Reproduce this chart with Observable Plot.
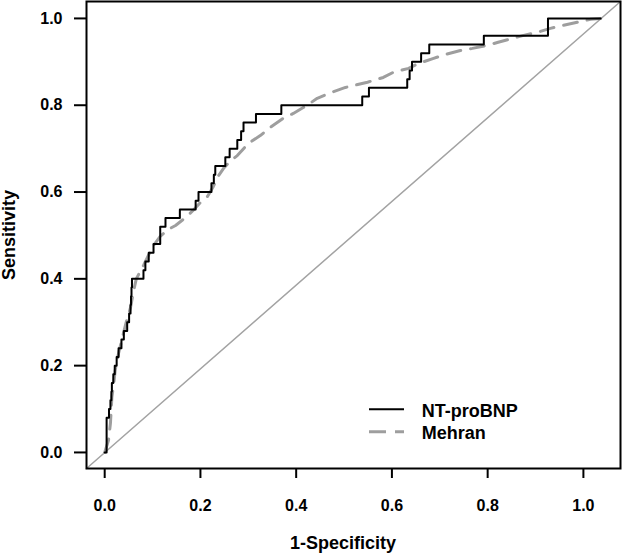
<!DOCTYPE html>
<html><head><meta charset="utf-8">
<script src="https://cdn.jsdelivr.net/npm/d3@7"></script>
<script src="https://cdn.jsdelivr.net/npm/@observablehq/plot@0.6"></script>
<style>
body{margin:0;background:#fff;}
#wrap{position:relative;width:622px;height:558px;font-family:"Liberation Sans",Arial,sans-serif;}
#legend{position:absolute;left:0;top:0;pointer-events:none;}
</style></head>
<body><div id="wrap"></div>
<script>
// ---- data ----
const seriesNames = ["NT-proBNP", "Mehran"];
const xTitle = "1-Specificity";
const yTitle = "Sensitivity";
const xTicks = [0, 0.2, 0.4, 0.6, 0.8, 1.0];
const yTicks = [0, 0.2, 0.4, 0.6, 0.8, 1.0];
const xDomain = [-0.038, 1.0775];
const yDomain = [-0.037, 1.039];

// NT-proBNP ROC (step points)
const ntX = [0, 0.004, 0.009, 0.012, 0.014, 0.015, 0.018, 0.021, 0.025, 0.029,
  0.035, 0.040, 0.047, 0.051, 0.054, 0.055, 0.056, 0.057, 0.081, 0.085,
  0.092, 0.102, 0.116, 0.127, 0.157, 0.190, 0.196, 0.223, 0.228, 0.231,
  0.252, 0.261, 0.277, 0.285, 0.290, 0.316, 0.369, 0.538, 0.552, 0.632,
  0.637, 0.642, 0.661, 0.678, 0.792, 0.926, 1.036];
const ntY = [0, 0.08, 0.10, 0.12, 0.14, 0.16, 0.18, 0.20, 0.22, 0.24,
  0.26, 0.28, 0.30, 0.32, 0.34, 0.36, 0.38, 0.40, 0.42, 0.44,
  0.46, 0.48, 0.52, 0.54, 0.56, 0.58, 0.60, 0.62, 0.64, 0.66,
  0.68, 0.70, 0.72, 0.74, 0.76, 0.78, 0.80, 0.82, 0.84, 0.86,
  0.88, 0.90, 0.92, 0.94, 0.96, 1.00, 1.00];

// Mehran ROC
const mehX = [0, 0.008, 0.012, 0.015, 0.019, 0.022, 0.027, 0.033, 0.039, 0.045,
  0.054, 0.060, 0.066, 0.081, 0.089, 0.102, 0.116, 0.133, 0.148, 0.169,
  0.185, 0.200, 0.215, 0.227, 0.238, 0.248, 0.262, 0.277, 0.300, 0.325,
  0.346, 0.373, 0.394, 0.423, 0.444, 0.472, 0.503, 0.549, 0.582, 0.603,
  0.635, 0.655, 0.687, 0.712, 0.743, 0.768, 0.799, 0.822, 0.852, 0.875,
  0.904, 0.931, 0.958, 0.987, 1.015, 1.036];
const mehY = [0, 0.028, 0.067, 0.127, 0.159, 0.19, 0.219, 0.247, 0.274, 0.30,
  0.334, 0.37, 0.40, 0.431, 0.449, 0.477, 0.498, 0.514, 0.523, 0.541,
  0.558, 0.576, 0.59, 0.613, 0.638, 0.654, 0.671, 0.684, 0.712, 0.73,
  0.749, 0.77, 0.781, 0.80, 0.816, 0.829, 0.841, 0.853, 0.864, 0.876,
  0.885, 0.896, 0.908, 0.917, 0.926, 0.931, 0.938, 0.945, 0.954, 0.961,
  0.968, 0.977, 0.984, 0.991, 0.998, 1.0];

// ---- build ----
const ntData = ntX.map((x, i) => ({x, y: ntY[i]}));
const mehData = mehX.map((x, i) => ({x, y: mehY[i]}));
const diag = [{x: xDomain[0], y: yDomain[0]}, {x: xDomain[1], y: yDomain[1]}];
const fmt = d3.format(".1f");
const FONT = "'Liberation Sans', Arial, sans-serif";

const chart = Plot.plot({
  width: 622, height: 558,
  marginLeft: 86, marginRight: 2, marginTop: 1, marginBottom: 90,
  style: {fontFamily: FONT, fontWeight: "bold", fontSize: "16px", background: "white", color: "black", overflow: "visible"},
  x: {domain: xDomain},
  y: {domain: yDomain},
  marks: [
    Plot.line(diag, {x: "x", y: "y", stroke: "#a3a3a3", strokeWidth: 1.5}),
    Plot.line(mehData, {x: "x", y: "y", stroke: "#9e9e9e", strokeWidth: 3, strokeDasharray: "14,10"}),
    Plot.line(ntData, {x: "x", y: "y", curve: "step-after", stroke: "black", strokeWidth: 2}),
    Plot.frame({stroke: "black", strokeWidth: 2}),
    Plot.axisX({ticks: xTicks, tickSize: 10, tickPadding: 21, strokeWidth: 2, tickFormat: fmt, label: null, fontSize: 16}),
    Plot.axisY({ticks: yTicks, tickSize: 12, tickPadding: 12, strokeWidth: 2, tickFormat: fmt, label: null, fontSize: 16}),
    Plot.text([xTitle], {text: d => d, frameAnchor: "bottom", lineAnchor: "middle", textAnchor: "middle", dy: 75, dx: -10.5, fontSize: 18, fontWeight: "bold"}),
    Plot.text([yTitle], {text: d => d, frameAnchor: "left", lineAnchor: "middle", textAnchor: "middle", dx: -77, rotate: -90, fontSize: 18, fontWeight: "bold"})
  ]
});
const wrap = document.getElementById("wrap");
wrap.appendChild(chart);

// legend overlay inside the plot area
const leg = d3.select(wrap).append("svg").attr("id", "legend")
  .attr("width", 622).attr("height", 558)
  .style("font-family", FONT).style("font-weight", "bold").style("font-size", "18px");
const legStyles = [
  {stroke: "black", width: 2, dash: null, ly: 409.3, ty: 416.7},
  {stroke: "#9e9e9e", width: 3, dash: "17,9", ly: 431.7, ty: 439.3}
];
seriesNames.forEach((name, i) => {
  const s = legStyles[i];
  leg.append("line").attr("x1", 369).attr("x2", 404).attr("y1", s.ly).attr("y2", s.ly)
    .attr("stroke", s.stroke).attr("stroke-width", s.width).attr("stroke-dasharray", s.dash);
  leg.append("text").attr("x", 421.7).attr("y", s.ty).attr("fill", "black").text(name);
});
</script>
</body></html>
